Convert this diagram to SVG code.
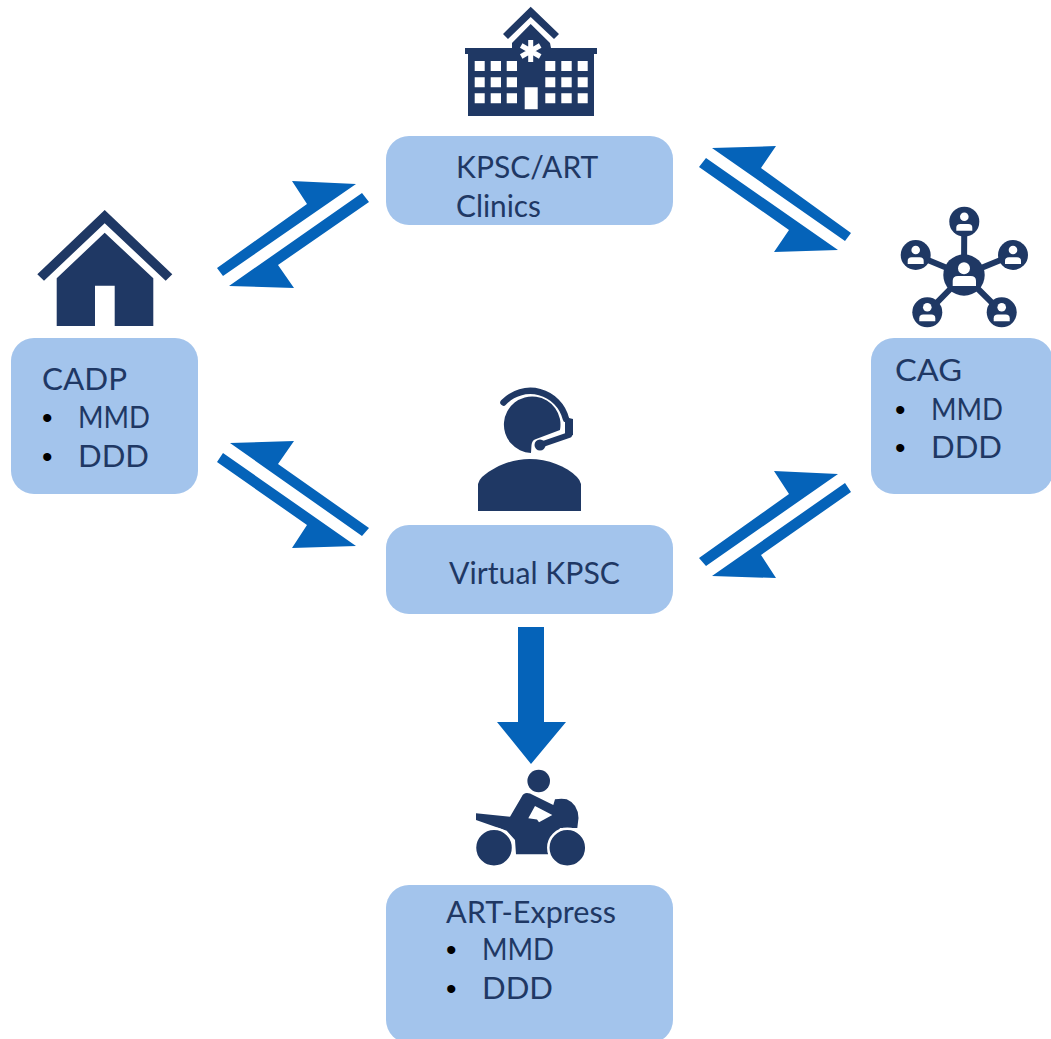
<svg xmlns="http://www.w3.org/2000/svg" width="1051" height="1039" viewBox="0 0 1051 1039">
<style>
.box{fill:#a3c4ec}
.ic{fill:#1f3864}
.icw{fill:#fff}
.ln{stroke:#1f3864;fill:none}
.star{stroke:#fff;stroke-width:5;fill:none}
.ar{fill:#0563b9}
.wh{fill:#1f3864;stroke:#fff;stroke-width:2.500}
text{font-family:"Lato","Liberation Sans",sans-serif;font-size:30px;fill:#1f3864}
text.b{font-family:"Liberation Sans",sans-serif;fill:#000}
</style>
<defs>
<g id="person">
<circle class="icw" cx="0" cy="-5" r="4.300"/>
<path class="icw" d="M-8,9 V6 Q-8,2.300 -4,2.300 H4 Q8,2.300 8,6 V9Z"/>
</g>
<g id="sat">
<circle class="ic" cx="0" cy="0" r="15"/>
<use href="#person"/>
</g>
</defs>
<rect width="1051" height="1039" fill="#fff"/>
<g id="connectors">
<polygon class="ar" points="217,268 307,204 292,181 356,184 223,276"/>
<polygon class="ar" points="362,193 369,202 278,265 294,288 229,286"/>
<polygon class="ar" points="712,148 776,146 761,168 851,233 845,241"/>
<polygon class="ar" points="706,158 838,250 774,252 789,230 699,167"/>
<polygon class="ar" points="230,443 294,441 278,464 369,528 362,536"/>
<polygon class="ar" points="223,453 356,546 292,548 307,525 217,462"/>
<polygon class="ar" points="699,558 789,494 774,471 838,474 706,566"/>
<polygon class="ar" points="845,483 851,492 761,555 776,578 712,576"/>
<polygon class="ar" points="518,627 544,627 544,722 566,722 531,764 497,722 518,722"/>
</g>
<g id="hospital">
<path class="ic" d="M503,34 L530.700,6.700 L559,34 L554,39 L530.700,17 L508,39Z"/>
<path class="ic" d="M465,48 H512 V43 L530.700,24 L550,43 L551,48 H597 V54 H594 V116 H468 V54 H465Z"/>
<path class="icw" d="M474.700,61h10v10h-10zM490.700,61h10.300v10h-10.300zM506.700,61h10.300v10h-10.300zM545.300,61h10v10h-10zM561.300,61h10.400v10h-10.400zM577.700,61h10v10h-10zM474.700,77.300h10v10h-10zM490.700,77.300h10.300v10h-10.300zM506.700,77.300h10.300v10h-10.300zM545.300,77.300h10v10h-10zM561.300,77.300h10.400v10h-10.400zM577.700,77.300h10v10h-10zM474.700,93.300h10v10h-10zM490.700,93.300h10.300v10h-10.300zM506.700,93.300h10.300v10h-10.300zM545.300,93.300h10v10h-10zM561.300,93.300h10.400v10h-10.400zM577.700,93.300h10v10h-10zM524.700,87.300h13v22h-13z"/>
<path class="star" d="M530.700,40V62M521.200,45.500L540.200,56.500M521.200,56.500L540.200,45.500"/>
</g>
<g id="kpsc">
<rect class="box" x="386" y="136" width="287" height="89" rx="23"/>
<text x="456" y="178">KPSC/ART</text>
<text x="456" y="217" textLength="85" lengthAdjust="spacingAndGlyphs">Clinics</text>
</g>
<g id="home">
<path class="ic" d="M104.700,210 L172.300,274.300 L165.700,280.700 L104.700,223.300 L44,280.700 L37.300,274.300Z"/>
<path class="ic" d="M104.700,232.700 L153.300,278.300 V326 H114.700 V285.700 H95 V326 H56.700 V278.300Z"/>
</g>
<g id="cadp">
<rect class="box" x="11" y="338" width="187" height="156" rx="23"/>
<text x="42" y="390" textLength="85" lengthAdjust="spacingAndGlyphs">CADP</text>
<text class="b" x="42" y="428">•</text><text x="78" y="428" textLength="72" lengthAdjust="spacingAndGlyphs">MMD</text>
<text class="b" x="42" y="467">•</text><text x="78" y="467" textLength="71" lengthAdjust="spacingAndGlyphs">DDD</text>
</g>
<g id="cag-icon">
<path class="ln" stroke-width="6" d="M964,275L964.300,221.700M964,275L915.700,255M964,275L1013,255M964,275L927.300,312.300M964,275L1001.700,312.300"/>
<use href="#sat" x="964.300" y="221.700"/>
<use href="#sat" x="915.700" y="255"/>
<use href="#sat" x="1013" y="255"/>
<use href="#sat" x="927.300" y="312.300"/>
<use href="#sat" x="1001.700" y="312.300"/>
<circle class="ic" cx="964" cy="275" r="20.700"/>
<circle class="icw" cx="964" cy="268.300" r="6"/>
<path class="icw" d="M952.700,286 V281 Q952.700,276 958,276 H970.700 Q976,276 976,281 V286Z"/>
</g>
<g id="cag">
<rect class="box" x="871" y="338" width="182" height="156" rx="23"/>
<text x="895" y="381" textLength="67" lengthAdjust="spacingAndGlyphs">CAG</text>
<text class="b" x="895" y="420">•</text><text x="931" y="420" textLength="72" lengthAdjust="spacingAndGlyphs">MMD</text>
<text class="b" x="895" y="458">•</text><text x="931" y="458" textLength="71" lengthAdjust="spacingAndGlyphs">DDD</text>
</g>
<g id="agent">
<path class="ic" d="M560,430 A28.300,28.300 0 1 0 531,453 L531.500,445 Q532,440.500 535.500,439.300Z"/>
<path class="ln" stroke-width="6.500" stroke-linecap="round" d="M503.500,402.500 A36.700,36.700 0 0 1 566,419"/>
<polygon class="ic" points="565,417 573,419 573,435 565,439"/>
<path class="ln" stroke-width="6" stroke-linecap="round" d="M540,445 L569,435"/>
<circle class="ic" cx="540" cy="445" r="5.500"/>
<path class="ic" d="M478,511 V484 Q479,480 482,477 C495,466 512,459 529.500,459 C548,459 566,466 577,477 Q580,480 581,484 V511Z"/>
</g>
<g id="virtual">
<rect class="box" x="386" y="525" width="287" height="89" rx="23"/>
<text x="449" y="584" textLength="171" lengthAdjust="spacingAndGlyphs">Virtual KPSC</text>
</g>
<g id="bike">
<circle class="ic" cx="538.700" cy="781" r="11.300"/>
<path class="ic" d="M476,813.300 L510,816.700 L521.700,796.700 Q524,791.500 530,793.500 L553.300,805 L555,799.300 Q562,798 566.700,799.300 Q578,804 578.500,818 L577.300,828 L560,828 L548,854.300 H516 L515,840 L506.700,830.700 L476,820Z"/>
<path class="icw" d="M535,806 L552.300,815 L539,822.300 L537,819.500 L528.300,818.300Z"/>
<circle class="wh" cx="494" cy="847.700" r="19"/>
<circle class="wh" cx="567.300" cy="847.700" r="19"/>
</g>
<g id="art">
<rect class="box" x="386" y="885" width="287" height="158" rx="23"/>
<text x="446" y="923" textLength="170" lengthAdjust="spacingAndGlyphs">ART-Express</text>
<text class="b" x="446" y="960">•</text><text x="482" y="960" textLength="72" lengthAdjust="spacingAndGlyphs">MMD</text>
<text class="b" x="446" y="999">•</text><text x="482" y="999" textLength="71" lengthAdjust="spacingAndGlyphs">DDD</text>
</g>
</svg>
